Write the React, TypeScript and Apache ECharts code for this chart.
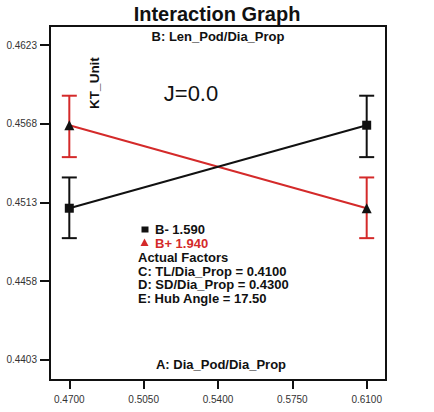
import React, { useEffect, useRef } from "react";
import * as echarts from "echarts";

const xLevels = [0.47, 0.61];
const bMinusMean = [0.4509, 0.4567];
const bMinusLow = [0.44881, 0.45447];
const bMinusHigh = [0.45305, 0.45876];
const bPlusMean = [0.4567, 0.4509];
const bPlusLow = [0.45447, 0.44881];
const bPlusHigh = [0.45876, 0.45305];
const xTicks = [0.47, 0.505, 0.54, 0.575, 0.61];
const yTicks = [0.4403, 0.4458, 0.4513, 0.4568, 0.4623];

const RED = "#d42a2a";
const BLACK = "#111111";
const FONT = "'Liberation Sans', Arial, sans-serif";

function errorSeries(name: string, low: number[], high: number[], color: string) {
  return {
    type: "custom",
    name,
    z: 2,
    data: xLevels.map((x, i) => [x, low[i], high[i]]),
    renderItem: (params: any, api: any) => {
      const x = api.value(0);
      const lo = api.coord([x, api.value(1)]);
      const hi = api.coord([x, api.value(2)]);
      const hw = 7.5;
      const style = { stroke: color, lineWidth: 2 };
      return {
        type: "group",
        children: [
          { type: "line", shape: { x1: lo[0], y1: lo[1], x2: hi[0], y2: hi[1] }, style },
          { type: "line", shape: { x1: lo[0] - hw, y1: lo[1], x2: lo[0] + hw, y2: lo[1] }, style },
          { type: "line", shape: { x1: hi[0] - hw, y1: hi[1], x2: hi[0] + hw, y2: hi[1] }, style },
        ],
      };
    },
  };
}

export default function App() {
  const ref = useRef<HTMLDivElement>(null);
  useEffect(() => {
    const chart = echarts.init(ref.current!, null, { renderer: "svg" });
    const boldText = (text: string, x: number, y: number, size: number, fill = BLACK, align = "left") => ({
      type: "text",
      x,
      y,
      style: { text, fill, font: `bold ${size}px ${FONT}`, textAlign: align, textVerticalAlign: "middle" },
      z: 10,
    });
    chart.setOption({
      animation: false,
      backgroundColor: "#ffffff",
      grid: {
        left: 50,
        right: 48,
        top: 26,
        bottom: 32,
        show: true,
        borderColor: BLACK,
        borderWidth: 2,
        backgroundColor: "transparent",
      },
      xAxis: {
        type: "value",
        min: 0.46091,
        max: 0.61909,
        splitLine: { show: false },
        axisLine: { show: false },
        axisTick: { show: true, length: 9, customValues: xTicks, lineStyle: { color: BLACK, width: 2 } },
        axisLabel: {
          customValues: xTicks,
          formatter: (v: number) => v.toFixed(4),
          fontFamily: FONT,
          fontSize: 10,
          color: "#333",
          margin: 14,
        },
      },
      yAxis: {
        type: "value",
        min: 0.4389,
        max: 0.46363,
        splitLine: { show: false },
        axisLine: { show: false },
        axisTick: { show: true, length: 10, customValues: yTicks, lineStyle: { color: BLACK, width: 2 } },
        axisLabel: {
          customValues: yTicks,
          formatter: (v: number) => v.toFixed(4),
          fontFamily: FONT,
          fontSize: 10,
          color: "#333",
          margin: 13,
        },
      },
      series: [
        errorSeries("B+ err", bPlusLow, bPlusHigh, RED),
        errorSeries("B- err", bMinusLow, bMinusHigh, BLACK),
        {
          type: "line",
          name: "B+ 1.940",
          z: 3,
          data: xLevels.map((x, i) => [x, bPlusMean[i]]),
          symbol: "triangle",
          symbolSize: 10,
          itemStyle: { color: BLACK },
          lineStyle: { color: RED, width: 2 },
        },
        {
          type: "line",
          name: "B- 1.590",
          z: 4,
          data: xLevels.map((x, i) => [x, bMinusMean[i]]),
          symbol: "rect",
          symbolSize: 9,
          itemStyle: { color: BLACK },
          lineStyle: { color: BLACK, width: 2 },
        },
      ],
      graphic: [
        boldText("Interaction Graph", 217, 14, 20, BLACK, "center"),
        boldText("B: Len_Pod/Dia_Prop", 218, 36, 13, BLACK, "center"),
        boldText("A: Dia_Pod/Dia_Prop", 221, 364, 13, BLACK, "center"),
        {
          type: "text",
          x: 94,
          y: 83,
          rotation: Math.PI / 2,
          style: {
            text: "KT_Unit",
            fill: BLACK,
            font: `bold 13.5px ${FONT}`,
            textAlign: "center",
            textVerticalAlign: "middle",
          },
          z: 10,
        },
        {
          type: "text",
          x: 191,
          y: 93,
          style: { text: "J=0.0", fill: BLACK, font: `22px ${FONT}`, textAlign: "center", textVerticalAlign: "middle" },
          z: 10,
        },
        { type: "rect", shape: { x: 141.5, y: 226.5, width: 7, height: 6 }, style: { fill: BLACK }, z: 10 },
        {
          type: "polygon",
          shape: { points: [[144.5, 238.5], [140.5, 246], [148.5, 246]] },
          style: { fill: RED },
          z: 10,
        },
        boldText("B- 1.590", 155, 229.5, 13),
        boldText("B+ 1.940", 155, 243.5, 13, RED),
        boldText("Actual Factors", 138, 257, 13),
        boldText("C: TL/Dia_Prop = 0.4100", 138, 271, 13),
        boldText("D: SD/Dia_Prop = 0.4300", 138, 284.5, 13),
        boldText("E: Hub Angle = 17.50", 138, 298, 13),
      ],
    });
    return () => chart.dispose();
  }, []);
  return <div ref={ref} style={{ width: 434, height: 412, position: "fixed", left: 0, top: 0 }} />;
}
